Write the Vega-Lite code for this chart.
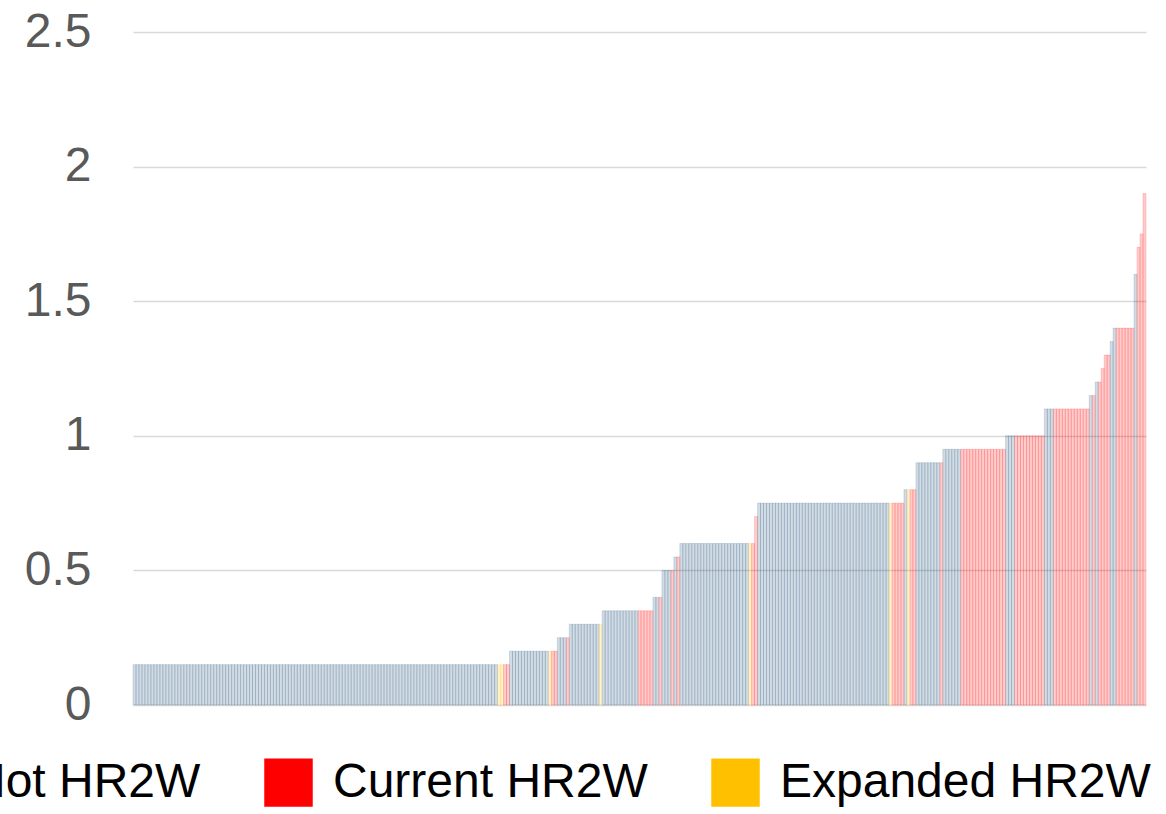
{
"$schema": "https://vega.github.io/schema/vega-lite/v6.json",
"autosize": {"type": "none"},
"padding": {"left": 133, "top": 32, "right": 20, "bottom": 109},
"width": 1013,
"height": 673,
"background": "white",
"config": {"view": {"stroke": null}, "font": "Liberation Sans"},
"data": {"values": [
{"rank":1,"value":0.15,"status":"Not HR2W"},{"rank":2,"value":0.15,"status":"Not HR2W"},{"rank":3,"value":0.15,"status":"Not HR2W"},{"rank":4,"value":0.15,"status":"Not HR2W"},{"rank":5,"value":0.15,"status":"Not HR2W"},{"rank":6,"value":0.15,"status":"Not HR2W"},{"rank":7,"value":0.15,"status":"Not HR2W"},{"rank":8,"value":0.15,"status":"Not HR2W"},{"rank":9,"value":0.15,"status":"Not HR2W"},{"rank":10,"value":0.15,"status":"Not HR2W"},
{"rank":11,"value":0.15,"status":"Not HR2W"},{"rank":12,"value":0.15,"status":"Not HR2W"},{"rank":13,"value":0.15,"status":"Not HR2W"},{"rank":14,"value":0.15,"status":"Not HR2W"},{"rank":15,"value":0.15,"status":"Not HR2W"},{"rank":16,"value":0.15,"status":"Not HR2W"},{"rank":17,"value":0.15,"status":"Not HR2W"},{"rank":18,"value":0.15,"status":"Not HR2W"},{"rank":19,"value":0.15,"status":"Not HR2W"},{"rank":20,"value":0.15,"status":"Not HR2W"},
{"rank":21,"value":0.15,"status":"Not HR2W"},{"rank":22,"value":0.15,"status":"Not HR2W"},{"rank":23,"value":0.15,"status":"Not HR2W"},{"rank":24,"value":0.15,"status":"Not HR2W"},{"rank":25,"value":0.15,"status":"Not HR2W"},{"rank":26,"value":0.15,"status":"Not HR2W"},{"rank":27,"value":0.15,"status":"Not HR2W"},{"rank":28,"value":0.15,"status":"Not HR2W"},{"rank":29,"value":0.15,"status":"Not HR2W"},{"rank":30,"value":0.15,"status":"Not HR2W"},
{"rank":31,"value":0.15,"status":"Not HR2W"},{"rank":32,"value":0.15,"status":"Not HR2W"},{"rank":33,"value":0.15,"status":"Not HR2W"},{"rank":34,"value":0.15,"status":"Not HR2W"},{"rank":35,"value":0.15,"status":"Not HR2W"},{"rank":36,"value":0.15,"status":"Not HR2W"},{"rank":37,"value":0.15,"status":"Not HR2W"},{"rank":38,"value":0.15,"status":"Not HR2W"},{"rank":39,"value":0.15,"status":"Not HR2W"},{"rank":40,"value":0.15,"status":"Not HR2W"},
{"rank":41,"value":0.15,"status":"Not HR2W"},{"rank":42,"value":0.15,"status":"Not HR2W"},{"rank":43,"value":0.15,"status":"Not HR2W"},{"rank":44,"value":0.15,"status":"Not HR2W"},{"rank":45,"value":0.15,"status":"Not HR2W"},{"rank":46,"value":0.15,"status":"Not HR2W"},{"rank":47,"value":0.15,"status":"Not HR2W"},{"rank":48,"value":0.15,"status":"Not HR2W"},{"rank":49,"value":0.15,"status":"Not HR2W"},{"rank":50,"value":0.15,"status":"Not HR2W"},
{"rank":51,"value":0.15,"status":"Not HR2W"},{"rank":52,"value":0.15,"status":"Not HR2W"},{"rank":53,"value":0.15,"status":"Not HR2W"},{"rank":54,"value":0.15,"status":"Not HR2W"},{"rank":55,"value":0.15,"status":"Not HR2W"},{"rank":56,"value":0.15,"status":"Not HR2W"},{"rank":57,"value":0.15,"status":"Not HR2W"},{"rank":58,"value":0.15,"status":"Not HR2W"},{"rank":59,"value":0.15,"status":"Not HR2W"},{"rank":60,"value":0.15,"status":"Not HR2W"},
{"rank":61,"value":0.15,"status":"Not HR2W"},{"rank":62,"value":0.15,"status":"Not HR2W"},{"rank":63,"value":0.15,"status":"Not HR2W"},{"rank":64,"value":0.15,"status":"Not HR2W"},{"rank":65,"value":0.15,"status":"Not HR2W"},{"rank":66,"value":0.15,"status":"Not HR2W"},{"rank":67,"value":0.15,"status":"Not HR2W"},{"rank":68,"value":0.15,"status":"Not HR2W"},{"rank":69,"value":0.15,"status":"Not HR2W"},{"rank":70,"value":0.15,"status":"Not HR2W"},
{"rank":71,"value":0.15,"status":"Not HR2W"},{"rank":72,"value":0.15,"status":"Not HR2W"},{"rank":73,"value":0.15,"status":"Not HR2W"},{"rank":74,"value":0.15,"status":"Not HR2W"},{"rank":75,"value":0.15,"status":"Not HR2W"},{"rank":76,"value":0.15,"status":"Not HR2W"},{"rank":77,"value":0.15,"status":"Not HR2W"},{"rank":78,"value":0.15,"status":"Not HR2W"},{"rank":79,"value":0.15,"status":"Not HR2W"},{"rank":80,"value":0.15,"status":"Not HR2W"},
{"rank":81,"value":0.15,"status":"Not HR2W"},{"rank":82,"value":0.15,"status":"Not HR2W"},{"rank":83,"value":0.15,"status":"Not HR2W"},{"rank":84,"value":0.15,"status":"Not HR2W"},{"rank":85,"value":0.15,"status":"Not HR2W"},{"rank":86,"value":0.15,"status":"Not HR2W"},{"rank":87,"value":0.15,"status":"Not HR2W"},{"rank":88,"value":0.15,"status":"Not HR2W"},{"rank":89,"value":0.15,"status":"Not HR2W"},{"rank":90,"value":0.15,"status":"Not HR2W"},
{"rank":91,"value":0.15,"status":"Not HR2W"},{"rank":92,"value":0.15,"status":"Not HR2W"},{"rank":93,"value":0.15,"status":"Not HR2W"},{"rank":94,"value":0.15,"status":"Not HR2W"},{"rank":95,"value":0.15,"status":"Not HR2W"},{"rank":96,"value":0.15,"status":"Not HR2W"},{"rank":97,"value":0.15,"status":"Not HR2W"},{"rank":98,"value":0.15,"status":"Not HR2W"},{"rank":99,"value":0.15,"status":"Not HR2W"},{"rank":100,"value":0.15,"status":"Not HR2W"},
{"rank":101,"value":0.15,"status":"Not HR2W"},{"rank":102,"value":0.15,"status":"Not HR2W"},{"rank":103,"value":0.15,"status":"Not HR2W"},{"rank":104,"value":0.15,"status":"Not HR2W"},{"rank":105,"value":0.15,"status":"Not HR2W"},{"rank":106,"value":0.15,"status":"Not HR2W"},{"rank":107,"value":0.15,"status":"Not HR2W"},{"rank":108,"value":0.15,"status":"Not HR2W"},{"rank":109,"value":0.15,"status":"Not HR2W"},{"rank":110,"value":0.15,"status":"Not HR2W"},
{"rank":111,"value":0.15,"status":"Not HR2W"},{"rank":112,"value":0.15,"status":"Not HR2W"},{"rank":113,"value":0.15,"status":"Not HR2W"},{"rank":114,"value":0.15,"status":"Not HR2W"},{"rank":115,"value":0.15,"status":"Not HR2W"},{"rank":116,"value":0.15,"status":"Not HR2W"},{"rank":117,"value":0.15,"status":"Not HR2W"},{"rank":118,"value":0.15,"status":"Not HR2W"},{"rank":119,"value":0.15,"status":"Not HR2W"},{"rank":120,"value":0.15,"status":"Not HR2W"},
{"rank":121,"value":0.15,"status":"Not HR2W"},{"rank":122,"value":0.15,"status":"Not HR2W"},{"rank":123,"value":0.15,"status":"Expanded HR2W"},{"rank":124,"value":0.15,"status":"Expanded HR2W"},{"rank":125,"value":0.15,"status":"Current HR2W"},{"rank":126,"value":0.15,"status":"Current HR2W"},
{"rank":127,"value":0.2,"status":"Not HR2W"},{"rank":128,"value":0.2,"status":"Not HR2W"},{"rank":129,"value":0.2,"status":"Not HR2W"},{"rank":130,"value":0.2,"status":"Not HR2W"},{"rank":131,"value":0.2,"status":"Not HR2W"},{"rank":132,"value":0.2,"status":"Not HR2W"},{"rank":133,"value":0.2,"status":"Not HR2W"},{"rank":134,"value":0.2,"status":"Not HR2W"},{"rank":135,"value":0.2,"status":"Not HR2W"},{"rank":136,"value":0.2,"status":"Not HR2W"},{"rank":137,"value":0.2,"status":"Not HR2W"},{"rank":138,"value":0.2,"status":"Not HR2W"},{"rank":139,"value":0.2,"status":"Not HR2W"},
{"rank":140,"value":0.2,"status":"Expanded HR2W"},{"rank":141,"value":0.2,"status":"Current HR2W"},{"rank":142,"value":0.2,"status":"Current HR2W"},
{"rank":143,"value":0.25,"status":"Not HR2W"},{"rank":144,"value":0.25,"status":"Not HR2W"},{"rank":145,"value":0.25,"status":"Not HR2W"},{"rank":146,"value":0.25,"status":"Current HR2W"},
{"rank":147,"value":0.3,"status":"Not HR2W"},{"rank":148,"value":0.3,"status":"Not HR2W"},{"rank":149,"value":0.3,"status":"Not HR2W"},{"rank":150,"value":0.3,"status":"Not HR2W"},{"rank":151,"value":0.3,"status":"Not HR2W"},{"rank":152,"value":0.3,"status":"Not HR2W"},{"rank":153,"value":0.3,"status":"Not HR2W"},{"rank":154,"value":0.3,"status":"Not HR2W"},{"rank":155,"value":0.3,"status":"Not HR2W"},{"rank":156,"value":0.3,"status":"Not HR2W"},{"rank":157,"value":0.3,"status":"Expanded HR2W"},
{"rank":158,"value":0.35,"status":"Not HR2W"},{"rank":159,"value":0.35,"status":"Not HR2W"},{"rank":160,"value":0.35,"status":"Not HR2W"},{"rank":161,"value":0.35,"status":"Not HR2W"},{"rank":162,"value":0.35,"status":"Not HR2W"},{"rank":163,"value":0.35,"status":"Not HR2W"},{"rank":164,"value":0.35,"status":"Not HR2W"},{"rank":165,"value":0.35,"status":"Not HR2W"},{"rank":166,"value":0.35,"status":"Not HR2W"},{"rank":167,"value":0.35,"status":"Not HR2W"},{"rank":168,"value":0.35,"status":"Not HR2W"},{"rank":169,"value":0.35,"status":"Not HR2W"},
{"rank":170,"value":0.35,"status":"Current HR2W"},{"rank":171,"value":0.35,"status":"Current HR2W"},{"rank":172,"value":0.35,"status":"Current HR2W"},{"rank":173,"value":0.35,"status":"Current HR2W"},{"rank":174,"value":0.35,"status":"Current HR2W"},
{"rank":175,"value":0.4,"status":"Not HR2W"},{"rank":176,"value":0.4,"status":"Not HR2W"},{"rank":177,"value":0.4,"status":"Current HR2W"},
{"rank":178,"value":0.5,"status":"Not HR2W"},{"rank":179,"value":0.5,"status":"Not HR2W"},{"rank":180,"value":0.5,"status":"Not HR2W"},{"rank":181,"value":0.5,"status":"Current HR2W"},
{"rank":182,"value":0.55,"status":"Not HR2W"},{"rank":183,"value":0.55,"status":"Current HR2W"},
{"rank":184,"value":0.6,"status":"Not HR2W"},{"rank":185,"value":0.6,"status":"Not HR2W"},{"rank":186,"value":0.6,"status":"Not HR2W"},{"rank":187,"value":0.6,"status":"Not HR2W"},{"rank":188,"value":0.6,"status":"Not HR2W"},{"rank":189,"value":0.6,"status":"Not HR2W"},{"rank":190,"value":0.6,"status":"Not HR2W"},{"rank":191,"value":0.6,"status":"Not HR2W"},{"rank":192,"value":0.6,"status":"Not HR2W"},{"rank":193,"value":0.6,"status":"Not HR2W"},{"rank":194,"value":0.6,"status":"Not HR2W"},{"rank":195,"value":0.6,"status":"Not HR2W"},{"rank":196,"value":0.6,"status":"Not HR2W"},{"rank":197,"value":0.6,"status":"Not HR2W"},{"rank":198,"value":0.6,"status":"Not HR2W"},{"rank":199,"value":0.6,"status":"Not HR2W"},{"rank":200,"value":0.6,"status":"Not HR2W"},{"rank":201,"value":0.6,"status":"Not HR2W"},{"rank":202,"value":0.6,"status":"Not HR2W"},{"rank":203,"value":0.6,"status":"Not HR2W"},{"rank":204,"value":0.6,"status":"Not HR2W"},{"rank":205,"value":0.6,"status":"Not HR2W"},{"rank":206,"value":0.6,"status":"Not HR2W"},
{"rank":207,"value":0.6,"status":"Expanded HR2W"},{"rank":208,"value":0.6,"status":"Current HR2W"},{"rank":209,"value":0.7,"status":"Current HR2W"},
{"rank":210,"value":0.75,"status":"Not HR2W"},{"rank":211,"value":0.75,"status":"Not HR2W"},{"rank":212,"value":0.75,"status":"Not HR2W"},{"rank":213,"value":0.75,"status":"Not HR2W"},{"rank":214,"value":0.75,"status":"Not HR2W"},{"rank":215,"value":0.75,"status":"Not HR2W"},{"rank":216,"value":0.75,"status":"Not HR2W"},{"rank":217,"value":0.75,"status":"Not HR2W"},{"rank":218,"value":0.75,"status":"Not HR2W"},{"rank":219,"value":0.75,"status":"Not HR2W"},
{"rank":220,"value":0.75,"status":"Not HR2W"},{"rank":221,"value":0.75,"status":"Not HR2W"},{"rank":222,"value":0.75,"status":"Not HR2W"},{"rank":223,"value":0.75,"status":"Not HR2W"},{"rank":224,"value":0.75,"status":"Not HR2W"},{"rank":225,"value":0.75,"status":"Not HR2W"},{"rank":226,"value":0.75,"status":"Not HR2W"},{"rank":227,"value":0.75,"status":"Not HR2W"},{"rank":228,"value":0.75,"status":"Not HR2W"},{"rank":229,"value":0.75,"status":"Not HR2W"},
{"rank":230,"value":0.75,"status":"Not HR2W"},{"rank":231,"value":0.75,"status":"Not HR2W"},{"rank":232,"value":0.75,"status":"Not HR2W"},{"rank":233,"value":0.75,"status":"Not HR2W"},{"rank":234,"value":0.75,"status":"Not HR2W"},{"rank":235,"value":0.75,"status":"Not HR2W"},{"rank":236,"value":0.75,"status":"Not HR2W"},{"rank":237,"value":0.75,"status":"Not HR2W"},{"rank":238,"value":0.75,"status":"Not HR2W"},{"rank":239,"value":0.75,"status":"Not HR2W"},
{"rank":240,"value":0.75,"status":"Not HR2W"},{"rank":241,"value":0.75,"status":"Not HR2W"},{"rank":242,"value":0.75,"status":"Not HR2W"},{"rank":243,"value":0.75,"status":"Not HR2W"},{"rank":244,"value":0.75,"status":"Not HR2W"},{"rank":245,"value":0.75,"status":"Not HR2W"},{"rank":246,"value":0.75,"status":"Not HR2W"},{"rank":247,"value":0.75,"status":"Not HR2W"},{"rank":248,"value":0.75,"status":"Not HR2W"},{"rank":249,"value":0.75,"status":"Not HR2W"},
{"rank":250,"value":0.75,"status":"Not HR2W"},{"rank":251,"value":0.75,"status":"Not HR2W"},{"rank":252,"value":0.75,"status":"Not HR2W"},{"rank":253,"value":0.75,"status":"Not HR2W"},{"rank":254,"value":0.75,"status":"Expanded HR2W"},{"rank":255,"value":0.75,"status":"Current HR2W"},{"rank":256,"value":0.75,"status":"Current HR2W"},{"rank":257,"value":0.75,"status":"Current HR2W"},{"rank":258,"value":0.75,"status":"Current HR2W"},
{"rank":259,"value":0.8,"status":"Not HR2W"},{"rank":260,"value":0.8,"status":"Expanded HR2W"},{"rank":261,"value":0.8,"status":"Current HR2W"},{"rank":262,"value":0.8,"status":"Current HR2W"},
{"rank":263,"value":0.9,"status":"Not HR2W"},{"rank":264,"value":0.9,"status":"Not HR2W"},{"rank":265,"value":0.9,"status":"Not HR2W"},{"rank":266,"value":0.9,"status":"Not HR2W"},{"rank":267,"value":0.9,"status":"Not HR2W"},{"rank":268,"value":0.9,"status":"Not HR2W"},{"rank":269,"value":0.9,"status":"Not HR2W"},{"rank":270,"value":0.9,"status":"Not HR2W"},{"rank":271,"value":0.9,"status":"Current HR2W"},
{"rank":272,"value":0.95,"status":"Not HR2W"},{"rank":273,"value":0.95,"status":"Not HR2W"},{"rank":274,"value":0.95,"status":"Not HR2W"},{"rank":275,"value":0.95,"status":"Not HR2W"},{"rank":276,"value":0.95,"status":"Not HR2W"},{"rank":277,"value":0.95,"status":"Not HR2W"},
{"rank":278,"value":0.95,"status":"Current HR2W"},{"rank":279,"value":0.95,"status":"Current HR2W"},{"rank":280,"value":0.95,"status":"Current HR2W"},{"rank":281,"value":0.95,"status":"Current HR2W"},{"rank":282,"value":0.95,"status":"Current HR2W"},{"rank":283,"value":0.95,"status":"Current HR2W"},{"rank":284,"value":0.95,"status":"Current HR2W"},{"rank":285,"value":0.95,"status":"Current HR2W"},{"rank":286,"value":0.95,"status":"Current HR2W"},{"rank":287,"value":0.95,"status":"Current HR2W"},{"rank":288,"value":0.95,"status":"Current HR2W"},{"rank":289,"value":0.95,"status":"Current HR2W"},{"rank":290,"value":0.95,"status":"Current HR2W"},{"rank":291,"value":0.95,"status":"Current HR2W"},{"rank":292,"value":0.95,"status":"Current HR2W"},
{"rank":293,"value":1.0,"status":"Not HR2W"},{"rank":294,"value":1.0,"status":"Not HR2W"},{"rank":295,"value":1.0,"status":"Not HR2W"},
{"rank":296,"value":1.0,"status":"Current HR2W"},{"rank":297,"value":1.0,"status":"Current HR2W"},{"rank":298,"value":1.0,"status":"Current HR2W"},{"rank":299,"value":1.0,"status":"Current HR2W"},{"rank":300,"value":1.0,"status":"Current HR2W"},{"rank":301,"value":1.0,"status":"Current HR2W"},{"rank":302,"value":1.0,"status":"Current HR2W"},{"rank":303,"value":1.0,"status":"Current HR2W"},{"rank":304,"value":1.0,"status":"Current HR2W"},{"rank":305,"value":1.0,"status":"Current HR2W"},
{"rank":306,"value":1.1,"status":"Not HR2W"},{"rank":307,"value":1.1,"status":"Not HR2W"},{"rank":308,"value":1.1,"status":"Not HR2W"},
{"rank":309,"value":1.1,"status":"Current HR2W"},{"rank":310,"value":1.1,"status":"Current HR2W"},{"rank":311,"value":1.1,"status":"Current HR2W"},{"rank":312,"value":1.1,"status":"Current HR2W"},{"rank":313,"value":1.1,"status":"Current HR2W"},{"rank":314,"value":1.1,"status":"Current HR2W"},{"rank":315,"value":1.1,"status":"Current HR2W"},{"rank":316,"value":1.1,"status":"Current HR2W"},{"rank":317,"value":1.1,"status":"Current HR2W"},{"rank":318,"value":1.1,"status":"Current HR2W"},{"rank":319,"value":1.1,"status":"Current HR2W"},{"rank":320,"value":1.1,"status":"Current HR2W"},
{"rank":321,"value":1.15,"status":"Not HR2W"},{"rank":322,"value":1.15,"status":"Current HR2W"},
{"rank":323,"value":1.2,"status":"Not HR2W"},{"rank":324,"value":1.2,"status":"Current HR2W"},
{"rank":325,"value":1.25,"status":"Current HR2W"},
{"rank":326,"value":1.3,"status":"Current HR2W"},{"rank":327,"value":1.3,"status":"Current HR2W"},
{"rank":328,"value":1.35,"status":"Not HR2W"},
{"rank":329,"value":1.4,"status":"Not HR2W"},{"rank":330,"value":1.4,"status":"Current HR2W"},{"rank":331,"value":1.4,"status":"Current HR2W"},{"rank":332,"value":1.4,"status":"Current HR2W"},{"rank":333,"value":1.4,"status":"Current HR2W"},{"rank":334,"value":1.4,"status":"Current HR2W"},{"rank":335,"value":1.4,"status":"Current HR2W"},
{"rank":336,"value":1.6,"status":"Not HR2W"},
{"rank":337,"value":1.7,"status":"Current HR2W"},{"rank":338,"value":1.75,"status":"Current HR2W"},{"rank":339,"value":1.9,"status":"Current HR2W"}
]},
"mark": {"type": "bar", "fillOpacity": 0.2, "strokeOpacity": 0.2, "strokeWidth": 0.8},
"encoding": {
"x": {"field": "rank", "type": "ordinal", "axis": null, "scale": {"paddingInner": 0, "paddingOuter": 0}},
"y": {"field": "value", "type": "quantitative",
"scale": {"domain": [0, 2.5], "nice": false},
"axis": {"title": null, "values": [0, 0.5, 1, 1.5, 2, 2.5], "format": "~g", "ticks": false, "domain": false,
"labelFontSize": 48, "labelColor": "#595959", "labelFont": "Liberation Sans", "labelPadding": 42,
"grid": true, "gridColor": "#d9d9d9", "gridWidth": 1.3}},
"color": {"field": "status", "type": "nominal",
"scale": {"domain": ["Not HR2W", "Current HR2W", "Expanded HR2W"], "range": ["#1f4e79", "#ff0000", "#ffc000"]},
"legend": {"title": null, "orient": "none", "legendX": -231, "legendY": 726, "direction": "horizontal",
"symbolType": "square", "symbolSize": 2350, "symbolOpacity": 1, "symbolFillOpacity": 1, "symbolStrokeWidth": 0,
"labelFontSize": 48, "labelFont": "Liberation Sans", "labelColor": "#000000", "labelLimit": 1000,
"labelOffset": 20, "columnPadding": 63, "padding": 0}},
"stroke": {"field": "status", "type": "nominal",
"scale": {"domain": ["Not HR2W", "Current HR2W", "Expanded HR2W"], "range": ["#1f4e79", "#ff0000", "#ffc000"]},
"legend": null}
}
}
